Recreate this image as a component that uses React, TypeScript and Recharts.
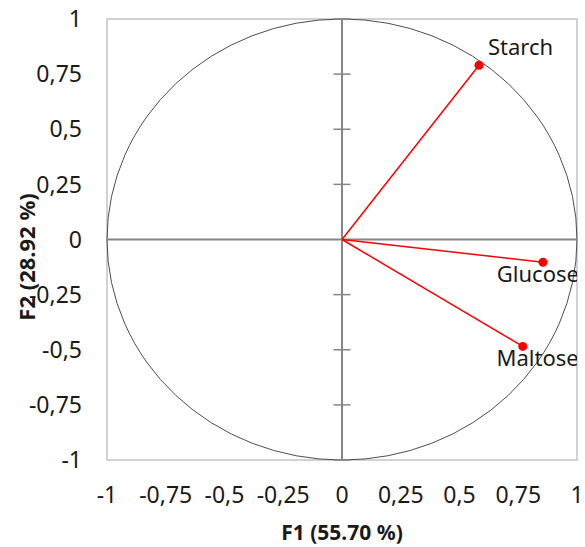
import { ScatterChart, Scatter, XAxis, YAxis, ReferenceLine, ReferenceArea, ReferenceDot, Label } from 'recharts';

// correlation circle, variables on F1 / F2
const variables = ['Starch', 'Glucose', 'Maltose'];
const f1 = [0.583, 0.855, 0.769];
const f2 = [0.79, -0.103, -0.485];
const axisTicks = [-1, -0.75, -0.5, -0.25, 0, 0.25, 0.5, 0.75, 1];
const xTitle = 'F1 (55.70 %)';
const yTitle = 'F2 (28.92 %)';

// where each label sits relative to its point (px)
const labelPlacement: Record<string, { dx: number; dy: number; anchor: 'start' | 'end' }> = {
  Starch: { dx: 9, dy: -10, anchor: 'start' },
  Glucose: { dx: 36, dy: 20, anchor: 'end' },
  Maltose: { dx: 56, dy: 20, anchor: 'end' },
};

const FONT = '"Noto Sans", "Open Sans", sans-serif';
const RED = '#ff0000';
const AXIS_GREY = '#868686';

const points = variables.map((name, i) => ({ name, x: f1[i], y: f2[i] }));
const fmt = (v: number) => String(v).replace('.', ',');

const VarPoint = (props: any) => {
  const { cx, cy, payload } = props;
  const p = labelPlacement[payload.name];
  return (
    <g>
      <circle cx={cx} cy={cy} r={4.5} fill={RED} />
      <text x={cx + p.dx} y={cy + p.dy} textAnchor={p.anchor} fontFamily={FONT} fontSize={22} fill="#1a1a1a">
        {payload.name}
      </text>
    </g>
  );
};

const Ellipse = (props: any) => {
  const { x, y, width, height } = props;
  return (
    <ellipse cx={x + width / 2} cy={y + height / 2} rx={width / 2} ry={height / 2} fill="none" stroke="#4d4d4d" strokeWidth={1} />
  );
};

// cross tick on the vertical axis only
const HCross = (props: any) => (
  <line x1={props.cx - 8.5} x2={props.cx + 8.5} y1={props.cy} y2={props.cy} stroke={AXIS_GREY} strokeWidth={1.5} />
);

export default function App() {
  const tickStyle = { fontFamily: FONT, fontSize: 23, fill: '#1a1a1a' };
  return (
    <div style={{ position: 'absolute', left: 0, top: 0 }}>
      <ScatterChart width={585} height={547} margin={{ top: 19, right: 8, bottom: 0, left: 0 }}>
        <XAxis
          type="number"
          dataKey="x"
          domain={[-1, 1]}
          ticks={axisTicks}
          tickFormatter={fmt}
          axisLine={false}
          tickLine={false}
          tickSize={0}
          tickMargin={27}
          height={87}
          tick={tickStyle}
          allowDataOverflow
        >
          <Label
            content={(p: any) => (
              <text
                x={p.viewBox.x + p.viewBox.width / 2}
                y={540}
                textAnchor="middle"
                fontFamily={FONT}
                fontSize={21}
                fontWeight="bold"
                fill="#1a1a1a"
              >
                {xTitle}
              </text>
            )}
          />
        </XAxis>
        <YAxis
          type="number"
          dataKey="y"
          domain={[-1, 1]}
          ticks={axisTicks}
          tickFormatter={fmt}
          axisLine={false}
          tickLine={false}
          tickSize={0}
          tickMargin={25}
          width={107}
          tick={tickStyle}
          allowDataOverflow
        >
          <Label
            content={() => (
              <text
                x={35}
                y={257}
                transform="rotate(-90, 35, 257)"
                textAnchor="middle"
                fontFamily={FONT}
                fontSize={22}
                fontWeight="bold"
                fill="#1a1a1a"
              >
                {yTitle}
              </text>
            )}
          />
        </YAxis>
        <ReferenceArea x1={-1} x2={1} y1={-1} y2={1} fill="none" stroke="#c4c4c4" strokeWidth={1.5} fillOpacity={0} />
        <ReferenceArea x1={-1} x2={1} y1={-1} y2={1} shape={Ellipse} />
        <ReferenceLine x={0} stroke={AXIS_GREY} strokeWidth={2} />
        <ReferenceLine y={0} stroke={AXIS_GREY} strokeWidth={2} />
        {axisTicks.filter((t) => t !== 0).map((t) => (
          <ReferenceDot key={'y' + t} x={0} y={t} shape={HCross} />
        ))}
        {points.map((p) => (
          <ReferenceLine
            key={p.name}
            segment={[{ x: 0, y: 0 }, { x: p.x, y: p.y }]}
            stroke={RED}
            strokeWidth={1.5}
          />
        ))}
        <Scatter data={points} shape={VarPoint} isAnimationActive={false} />
      </ScatterChart>
    </div>
  );
}
